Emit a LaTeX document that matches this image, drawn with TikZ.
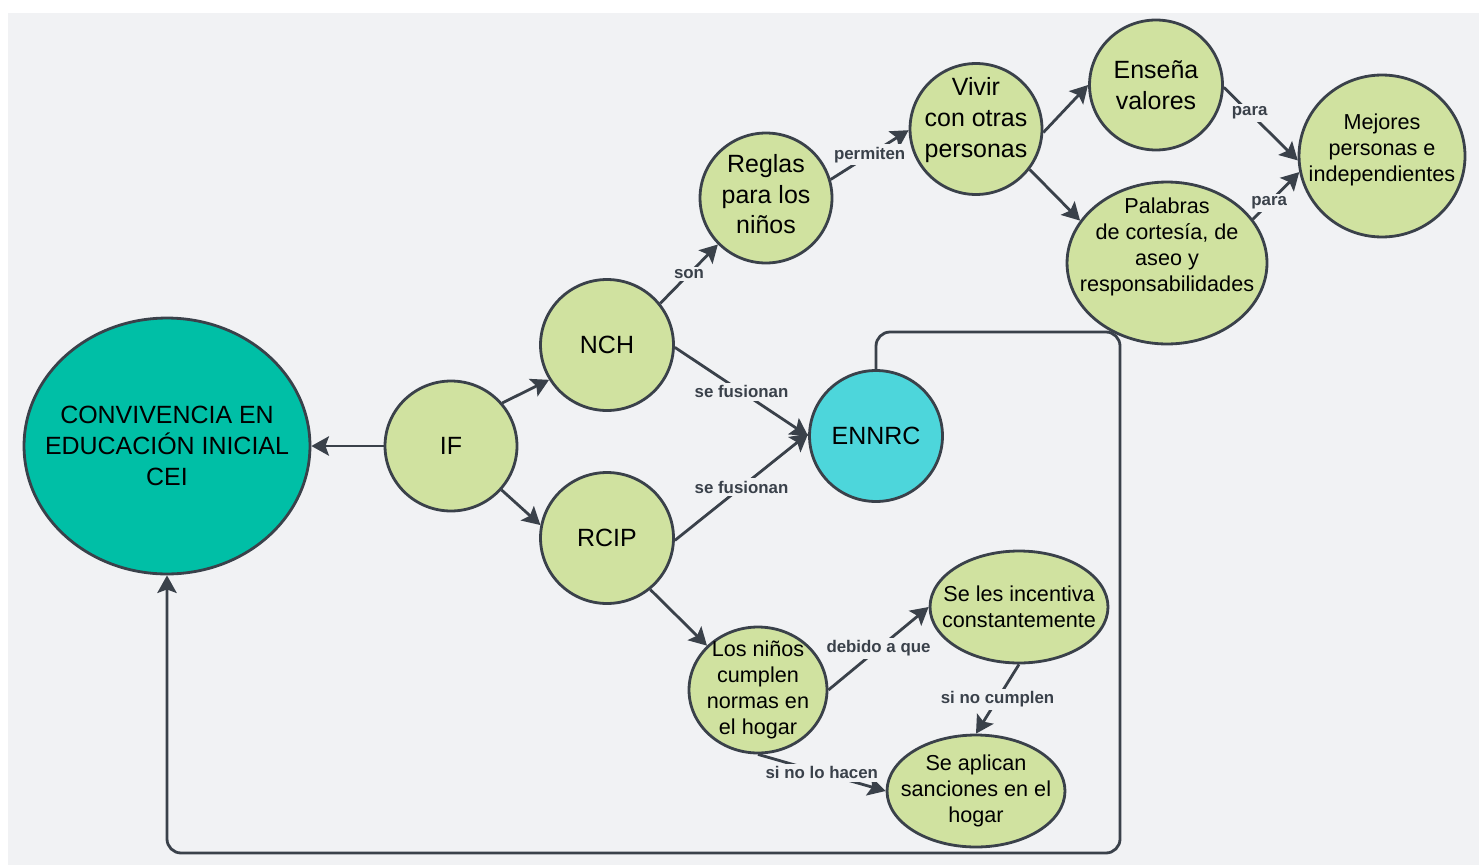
\documentclass[tikz,border=0pt]{standalone}
\usepackage{fontspec}
\setmainfont{Liberation Sans}
\usetikzlibrary{shapes.geometric,arrows.meta}

\definecolor{paper}{HTML}{F1F2F4}
\definecolor{leaf}{HTML}{D0E2A0}
\definecolor{sea}{HTML}{00BFA6}
\definecolor{sky}{HTML}{4DD6DB}
\definecolor{ink}{HTML}{3A414A}

\tikzset{
	bubble/.style={draw=ink,line width=1.6pt,ellipse,fill=leaf,inner sep=0pt},
	say/.style={inner sep=0pt,align=center,font=\fontsize{14.2}{17.6}\selectfont},
	saysmall/.style={say,font=\fontsize{12.3}{14.8}\selectfont},
	arr/.style={-{Stealth[length=10pt,width=11pt,inset=2pt]},draw=ink,line width=1.6pt},
	lbl/.style={fill=paper,text=ink,inner sep=1.5pt,font=\bfseries\fontsize{9.6}{11}\selectfont}
}

\begin{document}
\begin{tikzpicture}[x=0.02cm,y=-0.02cm]
			\fill[white] (0,0) rectangle (1479,865);
			\fill[paper] (8,13) rectangle (1479,865);
			\useasboundingbox (0,0) rectangle (1479,865);
			\node[bubble,fill=sea,minimum width=5.72cm,minimum height=5.12cm,label={[say]center:{CONVIVENCIA EN\\EDUCACIÓN INICIAL\\CEI}}] (cei) at (167,446) {};
			\node[bubble,minimum width=2.64cm,minimum height=2.6cm,label={[say]center:IF}] (if) at (451,446) {};
			\node[bubble,minimum width=2.66cm,minimum height=2.62cm,label={[say]center:NCH}] (nch) at (607,345) {};
			\node[bubble,minimum width=2.66cm,minimum height=2.62cm,label={[say]center:RCIP}] (rcip) at (607,538) {};
			\node[bubble,fill=sky,minimum width=2.66cm,minimum height=2.62cm,label={[say]center:ENNRC}] (ennrc) at (876,436) {};
			\node[bubble,minimum width=2.64cm,minimum height=2.6cm,label={[say,yshift=2.2pt]center:{Reglas\\para los\\niños}}] (reglas) at (766,198) {};
			\node[bubble,minimum width=2.64cm,minimum height=2.62cm,label={[say,yshift=5pt]center:{Vivir\\con otras\\personas}}] (vivir) at (976,129) {};
			\node[bubble,minimum width=2.66cm,minimum height=2.6cm,label={[say]center:{Enseña\\valores}}] (ensena) at (1156,85) {};
			\node[bubble,minimum width=3.32cm,minimum height=3.24cm,label={[saysmall,yshift=3.4pt]center:{Mejores\\personas e\\independientes}}] (mejores) at (1382,156) {};
			\node[bubble,minimum width=4cm,minimum height=3.24cm,label={[saysmall,yshift=9pt]center:{Palabras\\de cortesía, de\\aseo y\\responsabilidades}}] (palabras) at (1167,263) {};
			\node[bubble,minimum width=2.76cm,minimum height=2.52cm,label={[saysmall]center:{Los niños\\cumplen\\normas en\\el hogar}}] (ninos) at (758,690) {};
			\node[bubble,minimum width=3.56cm,minimum height=2.24cm,label={[saysmall]center:{Se les incentiva\\constantemente}}] (incentiva) at (1019,607) {};
			\node[bubble,minimum width=3.56cm,minimum height=2.24cm,label={[saysmall]center:{Se aplican\\sanciones en el\\hogar}}] (sanciones) at (976,791) {};
			\draw[arr] (if.west) -- (cei.east);
			\draw[arr] (if.40) -- (nch.211);
			\draw[arr] (if.-41) -- (rcip.169);
			\draw[arr] (nch.38) -- node[lbl]{son} (reglas.224);
			\draw[arr] (reglas.16) -- node[lbl]{permiten} (vivir.181);
			\draw[arr] (vivir.-3) -- (ensena.180);
			\draw[arr] (vivir.-37) -- (palabras.154);
			\draw[arr] (ensena.-2) -- node[lbl,pos=0.35]{para} (mejores.183);
			\draw[arr] (palabras.27) -- node[lbl,pos=0.35]{para} (mejores.191);
			\draw[arr] (nch.-2) -- node[lbl]{se fusionan} (ennrc.180);
			\draw[arr] (rcip.-2) -- node[lbl]{se fusionan} (ennrc.178);
			\draw[arr] (rcip.-50) -- (ninos.139);
			\draw[arr] (ninos.0) -- node[lbl]{debido a que} (incentiva.180);
			\draw[arr] (incentiva.270) -- node[lbl]{si no cumplen} (sanciones.90);
			\draw[arr] (ninos.270) -- node[lbl]{si no lo hacen} (sanciones.180);
			\draw[arr,rounded corners=8pt] (ennrc.north) |- (1120,332) |- (167,853) -- (cei.south);
		\end{tikzpicture}
\end{document}
